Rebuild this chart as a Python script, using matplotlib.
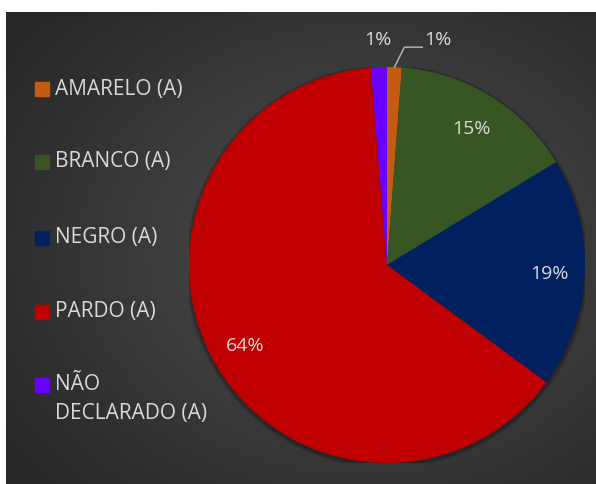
import numpy as np
import matplotlib
matplotlib.use("Agg")
import matplotlib.pyplot as plt
from matplotlib.patches import Rectangle, Circle

# dados
categorias = ["AMARELO (A)", "BRANCO (A)", "NEGRO (A)", "PARDO (A)", "NÃO\nDECLARADO (A)"]
valores = [1.2, 15.1, 18.8, 63.6, 1.3]
cores = ["#C55A11", "#375623", "#002060", "#C00000", "#6A00FF"]
rotulos = ["1%", "15%", "19%", "64%", "1%"]

plt.rcParams["font.family"] = ["Open Sans", "DejaVu Sans"]
cor_texto = "#D9D9D9"

W, H = 596, 484
fig = plt.figure(figsize=(W / 100, H / 100), dpi=100)
fig.patch.set_facecolor("white")

# fundo escuro com gradiente radial
bg = fig.add_axes([6 / W, 0, 1 - 6 / W, 1 - 12 / H])
ny, nx = 236, 295
yy, xx = np.mgrid[0:ny, 0:nx]
cx, cy = nx * 0.60, ny * 0.50
d = np.sqrt(((xx - cx) / nx) ** 2 + ((yy - cy) / ny) ** 2) / 0.75
d = np.clip(d, 0, 1)
lum = 0.31 - 0.16 * d
img = np.dstack([lum, lum, lum])
bg.imshow(img, aspect="auto", extent=[0, 1, 0, 1], interpolation="bicubic")
bg.set_axis_off()

# pizza
cxp, cyp, r = 387, 265, 198
ax = fig.add_axes([(cxp - r) / W, 1 - (cyp + r) / H, 2 * r / W, 2 * r / H])
ax.set_axis_off()

# sombra suave
for k in range(5):
    ax.add_patch(Circle((0.0, -0.008), 1.0 + 0.004 * k, color="black", alpha=0.05, zorder=0))

wedges, _ = ax.pie(valores, colors=cores, startangle=90, counterclock=False,
                   radius=1.0, wedgeprops=dict(linewidth=0))
for w in wedges:
    w.set_zorder(2)
ax.set_xlim(-1, 1)
ax.set_ylim(-1, 1)

# rótulos de dados
cum = np.cumsum([0] + valores[:-1])
for i, (v, lab) in enumerate(zip(valores, rotulos)):
    ang = np.deg2rad(90 - (cum[i] + v / 2) / sum(valores) * 360)
    if v > 5:
        ax.text(0.82 * np.cos(ang), 0.82 * np.sin(ang) - 0.01, lab, ha="center", va="center",
                color=cor_texto, fontsize=14, zorder=3)

# rótulos externos das fatias pequenas
ang0 = np.deg2rad(90 - (cum[0] + valores[0] / 2) / sum(valores) * 360)
x0, y0 = np.cos(ang0), np.sin(ang0)
ax.plot([x0, x0 + 0.05, x0 + 0.14], [y0, 1.10, 1.10], color="#A6A6A6", lw=1.2, zorder=3,
        clip_on=False)
ax.text(x0 + 0.15, 1.09, rotulos[0], ha="left", va="bottom", color=cor_texto, fontsize=14,
        clip_on=False)
ang4 = np.deg2rad(90 - (cum[4] + valores[4] / 2) / sum(valores) * 360)
ax.text(np.cos(ang4) - 0.005, 1.09, rotulos[4], ha="center", va="bottom", color=cor_texto,
        fontsize=14, clip_on=False)

# legenda
y_leg = [89, 162, 238, 312, 385]
for cat, cor, yp in zip(categorias, cores, y_leg):
    fig.patches.append(Rectangle((35 / W, 1 - (yp + 7) / H), 14 / W, 14 / H,
                                 transform=fig.transFigure, color=cor))
    fig.text(55 / W, 1 - yp / H, cat.split("\n")[0], color=cor_texto, fontsize=15,
             va="center", ha="left")
    if "\n" in cat:
        fig.text(55 / W, 1 - (yp + 28) / H, cat.split("\n")[1], color=cor_texto,
                 fontsize=15, va="center", ha="left")

fig.savefig("out.png", dpi=100, facecolor="white")
